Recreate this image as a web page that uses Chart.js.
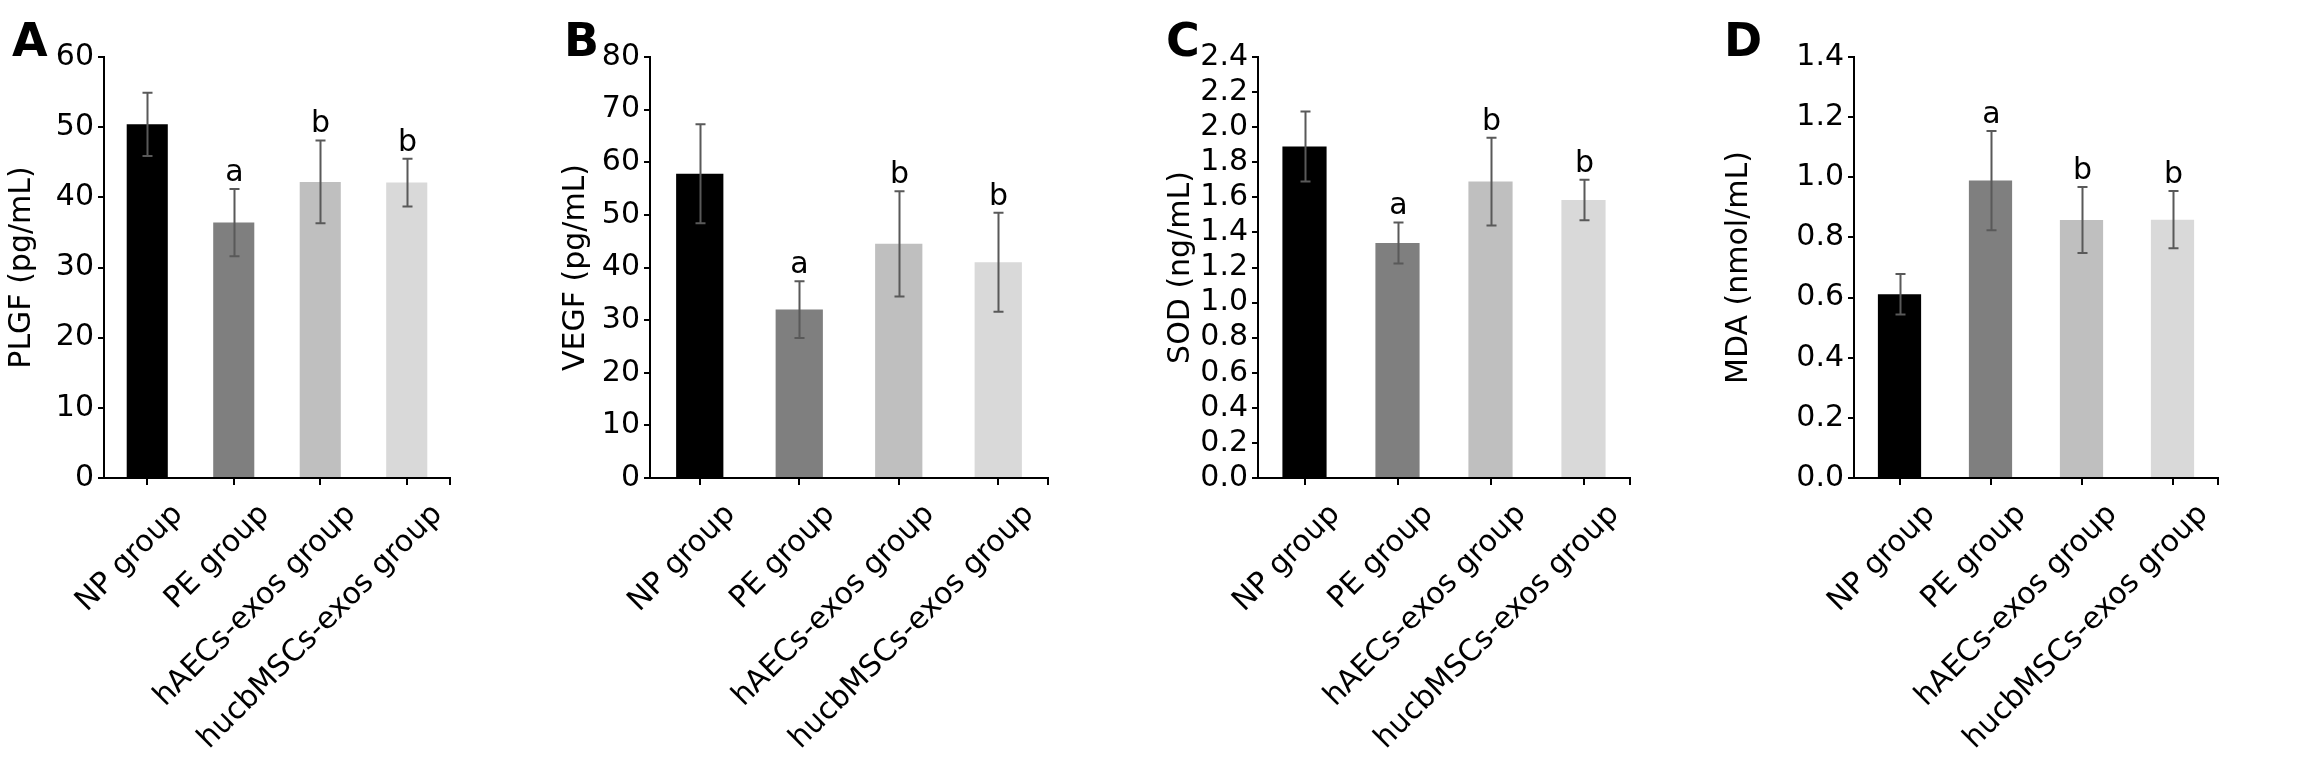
<!DOCTYPE html>
<html>
<head>
<meta charset="utf-8">
<script src="https://cdn.jsdelivr.net/npm/chart.js@4.4.1/dist/chart.umd.min.js"></script>
<style>
  html, body { margin: 0; padding: 0; background: #fff; }
  #wrap { position: relative; width: 2314px; height: 766px; overflow: hidden; }
  .panel { position: absolute; top: 0; height: 766px; }
</style>
</head>
<body>
<div id="wrap">
  <div class="panel" style="left:0px;width:460px"><canvas id="chartA"></canvas></div>
  <div class="panel" style="left:540px;width:520px"><canvas id="chartB"></canvas></div>
  <div class="panel" style="left:1110px;width:540px"><canvas id="chartC"></canvas></div>
  <div class="panel" style="left:1700px;width:614px"><canvas id="chartD"></canvas></div>
</div>
<script>
// groups and bar fills, same for all four panels
const groups = ['NP group', 'PE group', 'hAECs-exos group', 'hucbMSCs-exos group'];
const barColors = ['#000000', '#7f7f7f', '#bfbfbf', '#d9d9d9'];

// A - PLGF (pg/mL)
const plgfMean = [50.4, 36.4, 42.2, 42.1];
const plgfErr = [4.5, 4.8, 5.9, 3.4];
const plgfMarks = ['', 'a', 'b', 'b'];

// B - VEGF (pg/mL)
const vegfMean = [57.8, 32.0, 44.5, 41.0];
const vegfErr = [9.4, 5.4, 10.0, 9.4];
const vegfMarks = ['', 'a', 'b', 'b'];

// C - SOD (ng/mL)
const sodMean = [1.89, 1.34, 1.69, 1.585];
const sodErr = [0.20, 0.117, 0.25, 0.115];
const sodMarks = ['', 'a', 'b', 'b'];

// D - MDA (nmol/mL)
const mdaMean = [0.611, 0.989, 0.858, 0.859];
const mdaErr = [0.067, 0.165, 0.11, 0.095];
const mdaMarks = ['', 'a', 'b', 'b'];

const FONT = 'DejaVu Sans';
const FSIZE = 30;

// error bars, significance letters, panel letter, right-end tick
const extrasPlugin = {
  id: 'extras',
  afterDatasetsDraw(chart, args, opts) {
    const ctx = chart.ctx;
    const x = chart.scales.x, y = chart.scales.y;
    const meta = chart.getDatasetMeta(0);
    ctx.save();
    ctx.strokeStyle = '#595959';
    ctx.lineWidth = 2;
    meta.data.forEach((bar, i) => {
      const m = opts.mean[i], e = opts.err[i];
      const cx = Math.round(bar.x) + 0.5;
      const yt = y.getPixelForValue(m + e), yb = y.getPixelForValue(m - e);
      ctx.beginPath();
      ctx.moveTo(cx, yt); ctx.lineTo(cx, yb);
      ctx.moveTo(cx - 5, yt); ctx.lineTo(cx + 5, yt);
      ctx.moveTo(cx - 5, yb); ctx.lineTo(cx + 5, yb);
      ctx.stroke();
      if (opts.marks[i]) {
        ctx.fillStyle = '#000';
        ctx.font = FSIZE + 'px "' + FONT + '"';
        ctx.textAlign = 'center';
        ctx.textBaseline = 'alphabetic';
        ctx.fillText(opts.marks[i], cx, yt - 8);
      }
    });
    // tick at the right end of the category axis
    ctx.strokeStyle = '#000';
    ctx.lineWidth = 2;
    ctx.beginPath();
    ctx.moveTo(chart.chartArea.right, x.top);
    ctx.lineTo(chart.chartArea.right, x.top + 7);
    ctx.stroke();
    // panel letter
    ctx.fillStyle = '#000';
    ctx.font = 'bold 46px "' + FONT + '"';
    ctx.textAlign = 'left';
    ctx.textBaseline = 'alphabetic';
    ctx.fillText(opts.letter, opts.lx, 56);
    ctx.restore();
  }
};

function makeChart(id, cfg) {
  return new Chart(document.getElementById(id), {
    type: 'bar',
    data: {
      labels: groups,
      datasets: [{
        data: cfg.mean,
        backgroundColor: barColors,
        borderWidth: 0,
        barPercentage: 0.475,
        categoryPercentage: 1
      }]
    },
    options: {
      responsive: true,
      maintainAspectRatio: false,
      animation: false,
      layout: { padding: { top: 57, right: cfg.padRight, left: 0, bottom: 0 } },
      plugins: {
        legend: { display: false },
        tooltip: { enabled: false },
        extras: { mean: cfg.mean, err: cfg.err, marks: cfg.marks, letter: cfg.letter, lx: cfg.lx }
      },
      scales: {
        x: {
          grid: { display: true, drawOnChartArea: false, offset: false, tickLength: 7, color: '#000', lineWidth: 2 },
          border: { color: '#000', width: 2 },
          ticks: {
            color: '#000',
            font: { family: FONT, size: FSIZE },
            autoSkip: false,
            minRotation: 45,
            maxRotation: 45,
            padding: 12,
            labelOffset: 31
          },
          afterFit(scale) { scale.height = 288; }
        },
        y: {
          min: 0,
          max: cfg.max,
          ticks: {
            stepSize: cfg.step,
            autoSkip: false,
            color: '#000',
            font: { family: FONT, size: FSIZE },
            padding: 4,
            callback: v => v.toFixed(cfg.dec)
          },
          grid: { drawOnChartArea: false, tickLength: 6, color: '#000', lineWidth: 2 },
          border: { color: '#000', width: 2 },
          title: {
            display: true,
            text: cfg.title,
            color: '#000',
            font: { family: FONT, size: FSIZE },
            padding: { top: cfg.titlePad, bottom: 0 }
          },
          afterFit(scale) { scale.width = cfg.yWidth; }
        }
      }
    },
    plugins: [extrasPlugin]
  });
}

makeChart('chartA', { mean: plgfMean, err: plgfErr, marks: plgfMarks, letter: 'A', lx: 12,
  title: 'PLGF (pg/mL)', max: 60, step: 10, dec: 0, yWidth: 104, padRight: 10, titlePad: 4 });
makeChart('chartB', { mean: vegfMean, err: vegfErr, marks: vegfMarks, letter: 'B', lx: 24,
  title: 'VEGF (pg/mL)', max: 80, step: 10, dec: 0, yWidth: 110, padRight: 12, titlePad: 18 });
makeChart('chartC', { mean: sodMean, err: sodErr, marks: sodMarks, letter: 'C', lx: 56,
  title: 'SOD (ng/mL)', max: 2.4, step: 0.2, dec: 1, yWidth: 148, padRight: 20, titlePad: 53 });
makeChart('chartD', { mean: mdaMean, err: mdaErr, marks: mdaMarks, letter: 'D', lx: 24,
  title: 'MDA (nmol/mL)', max: 1.4, step: 0.2, dec: 1, yWidth: 154, padRight: 96, titlePad: 21 });
</script>
</body>
</html>
